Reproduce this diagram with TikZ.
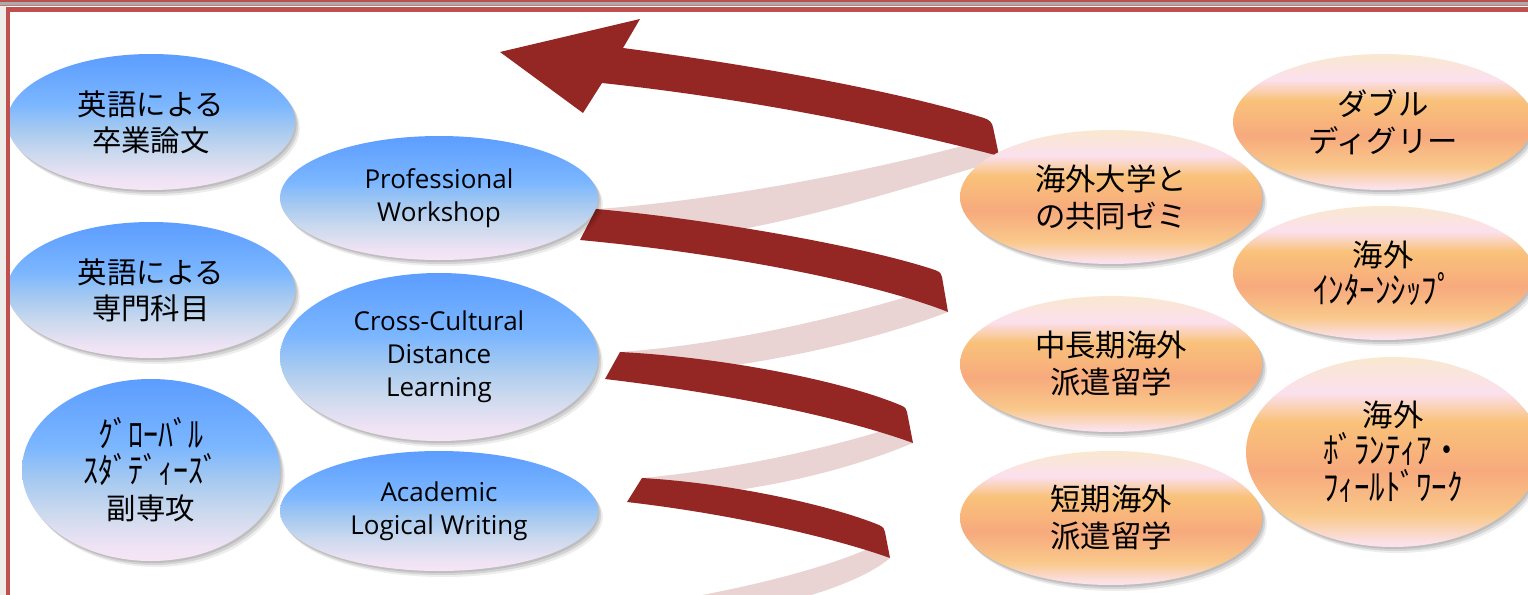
\documentclass[tikz,border=0pt]{standalone}
\usepackage{fontspec}
\usepackage{graphicx}
\newfontfamily\jpfont{Noto Sans CJK JP}
\newfontfamily\latfont{Open Sans}
\usetikzlibrary{shapes.geometric,shadows}

\definecolor{ribdark}{HTML}{942624}
\definecolor{ribpale}{HTML}{E9D3D3}
\definecolor{framered}{HTML}{C0504D}
\definecolor{stripered}{HTML}{B9504E}
\definecolor{stripegray}{HTML}{ABABAB}
\definecolor{margingray}{HTML}{EEECE8}
\definecolor{bTop}{HTML}{5C9DFF}
\definecolor{bMid}{HTML}{7BB6FF}
\definecolor{bMidB}{HTML}{A5C9F0}
\definecolor{bLow}{HTML}{CBD9EE}
\definecolor{bBB}{HTML}{EFE3F4}
\definecolor{bBot}{HTML}{F6E6F6}
\definecolor{oCream}{HTML}{FAE8CF}
\definecolor{oPink}{HTML}{FBE0EE}
\definecolor{oOrange}{HTML}{F9C27A}
\definecolor{oSalmon}{HTML}{F7AA7D}
\definecolor{oOrangeB}{HTML}{F9C88A}
\definecolor{oPinkB}{HTML}{FBE1EA}

\pgfdeclareverticalshading{blueellshade}{100bp}{color(0bp)=(bBot); color(25bp)=(bBot); color(29bp)=(bBB); color(38.5bp)=(bLow); color(47.5bp)=(bMidB); color(56.5bp)=(bMid); color(75bp)=(bTop); color(100bp)=(bTop)}
\pgfdeclareverticalshading{orangeellshade}{100bp}{color(0bp)=(oPinkB); color(26bp)=(oPinkB); color(33.5bp)=(oOrangeB); color(45bp)=(oSalmon); color(58bp)=(oOrange); color(65.5bp)=(oPink); color(75bp)=(oCream); color(100bp)=(oCream)}

\newcommand{\hw}[1]{\scalebox{1.02}[1.2]{#1}}

\tikzset{
  ell/.style={ellipse, inner sep=0pt, align=center, text=black,
    drop shadow={shadow xshift=0.8pt, shadow yshift=-1pt, opacity=0.10, fill=black},
    drop shadow={shadow xshift=1.6pt, shadow yshift=-2pt, opacity=0.10, fill=black},
    drop shadow={shadow xshift=2.4pt, shadow yshift=-3pt, opacity=0.07, fill=black}},
  blueell/.style={ell, shade, shading=blueellshade},
  orell/.style={ell, shade, shading=orangeellshade},
  jptext/.style={font=\jpfont\fontsize{14.7}{18}\selectfont},
  jptextR/.style={font=\jpfont\fontsize{15.2}{18.5}\selectfont},
  lattext/.style={font=\latfont\fontsize{13}{16.5}\selectfont},
  darkrib/.style={fill=ribdark},
  palerib/.style={fill=ribpale},
}

\begin{document}
\begin{tikzpicture}[x=0.5pt,y=-0.5pt]
\useasboundingbox (0,0) rectangle (1528,595);
\fill[white] (0,0) rectangle (1528,595);
\fill[margingray] (0,0) rectangle (7,595);

% back (pale) ribbons
\fill[palerib] (598,209) .. controls (720,200) and (880,170) .. (995,137) -- (1000,160) .. controls (900,190) and (800,222) .. (690,238) -- cycle;
\fill[palerib] (620,352) .. controls (720,345) and (830,320) .. (913,295) -- (948,312) .. controls (880,338) and (780,362) .. (680,372) -- cycle;
\fill[palerib] (642,478) .. controls (730,470) and (820,450) .. (885,430) -- (913,443) .. controls (860,465) and (790,485) .. (700,495) -- cycle;
\fill[palerib] (870,548) .. controls (820,570) and (740,590) .. (640,606) -- (770,606) .. controls (830,592) and (870,575) .. (890,558) -- cycle;

% front (dark) ribbons
\fill[darkrib] (500,52) -- (640,19) -- (623,48) .. controls (760,66) and (900,92) .. (984,118) .. controls (990,120) and (992,123) .. (993,127) -- (999,156) .. controls (900,130) and (760,100) .. (602,83) -- (583,113) -- cycle;
\fill[darkrib] (596,209) .. controls (700,218) and (860,245) .. (935,270) .. controls (940,272) and (942,274) .. (942,277) -- (948,312) .. controls (880,285) and (740,255) .. (580,240) -- cycle;
\fill[darkrib] (620,352) .. controls (720,357) and (840,380) .. (900,405) .. controls (905,407) and (907,409) .. (907,412) -- (913,443) .. controls (850,420) and (740,395) .. (605,379) -- cycle;
\fill[darkrib] (642,478) .. controls (730,483) and (830,505) .. (879,525) .. controls (883,527) and (885,529) .. (885,532) -- (890,558) .. controls (840,540) and (740,515) .. (627,502) -- cycle;

% left column
\node[blueell, jptext, minimum width=144pt, minimum height=68pt] (eng1) at (151,122) {英語による\\卒業論文};
\node[blueell, jptext, minimum width=144pt, minimum height=68pt] (eng2) at (151,290) {英語による\\専門科目};
\node[blueell, jptext, minimum width=129pt, minimum height=91pt] (glob) at (151,470) {\hw{ｸﾞﾛｰﾊﾞﾙ}\\\hw{ｽﾀﾞﾃﾞｨｰｽﾞ}\\副専攻};

% middle column
\node[blueell, lattext, minimum width=159pt, minimum height=62pt] (prof) at (439,198) {Professional\\Workshop};
\node[blueell, lattext, minimum width=159pt, minimum height=84pt] (ccdl) at (439,357) {Cross-Cultural\\Distance\\Learning};
\node[blueell, lattext, minimum width=159pt, minimum height=60pt] (alw) at (439,511) {Academic\\Logical Writing};

% right column
\node[orell, jptextR, minimum width=151pt, minimum height=67pt] (sem) at (1111,197) {海外大学と\\の共同ゼミ};
\node[orell, jptextR, minimum width=151pt, minimum height=68pt] (midlong) at (1111,364) {中長期海外\\派遣留学};
\node[orell, jptextR, minimum width=151pt, minimum height=67pt] (short) at (1111,518) {短期海外\\派遣留学};

% far right column
\node[orell, jptextR, minimum width=150pt, minimum height=68pt] (dbl) at (1383,122) {ダブル\\ディグリー};
\node[orell, jptextR, minimum width=150pt, minimum height=67pt] (intern) at (1383,273) {海外\\\hw{ｲﾝﾀｰﾝｼｯﾌﾟ}};
\node[orell, jptextR, minimum width=147pt, minimum height=95pt] (volun) at (1393,452) {海外\\\hw{ﾎﾞﾗﾝﾃｨｱ・}\\\hw{ﾌｨｰﾙﾄﾞﾜｰｸ}};

% frame and top stripes
\fill[stripered] (0,0) rectangle (1528,2);
\fill[stripegray] (0,2) rectangle (1528,4.5);
\fill[stripered!80] (0,4.5) rectangle (1528,6);
\draw[framered, line width=2.2pt] (8,600) -- (8,9.5) -- (1540,9.5);
\end{tikzpicture}
\end{document}
